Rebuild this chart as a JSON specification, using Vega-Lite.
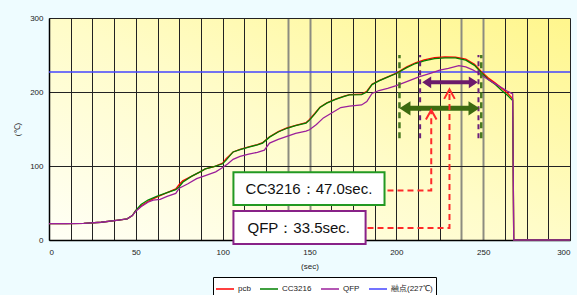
{
  "$schema": "https://vega.github.io/schema/vega-lite/v6.json",
  "width": 521,
  "height": 222,
  "autosize": {"type": "none"},
  "padding": {"left": 49, "top": 18, "right": 7, "bottom": 55},
  "background": "#eefcff",
  "config": {
    "view": {
      "fill": {"gradient": "linear", "x1": 0, "y1": 1, "x2": 1, "y2": 0,
        "stops": [{"offset": 0, "color": "#fffff6"}, {"offset": 0.5, "color": "#fffcc8"}, {"offset": 1, "color": "#fff68c"}]},
      "stroke": null
    },
    "axis": {
      "labelFont": "Liberation Sans", "labelFontSize": 8, "labelColor": "#222",
      "titleFont": "Liberation Sans", "titleFontSize": 8, "titleFontWeight": "normal", "titleColor": "#222",
      "domainColor": "#000", "domainWidth": 1.5, "ticks": false,
      "gridColor": "#222", "gridOpacity": 1, "gridWidth": 1
    },
    "legend": {
      "orient": "none", "legendX": 164, "legendY": 259, "direction": "horizontal", "symbolType": "stroke", "symbolSize": 324,
      "symbolStrokeWidth": 1.5, "labelFont": "Liberation Sans", "labelFontSize": 8, "labelColor": "#222",
      "columnPadding": 6, "padding": 2, "strokeColor": "#000", "fillColor": "#fff", "labelOffset": 3
    }
  },
  "datasets": {
    "curves": [
      {"series": "融点(227℃)", "sec": 0, "temp": 227}, {"series": "融点(227℃)", "sec": 300, "temp": 227},
      {"series": "pcb", "sec": 0, "temp": 22}, {"series": "pcb", "sec": 10, "temp": 22}, {"series": "pcb", "sec": 20, "temp": 22.5},
      {"series": "pcb", "sec": 30, "temp": 24}, {"series": "pcb", "sec": 40, "temp": 27}, {"series": "pcb", "sec": 45, "temp": 28.5},
      {"series": "pcb", "sec": 48, "temp": 33}, {"series": "pcb", "sec": 50, "temp": 40}, {"series": "pcb", "sec": 53, "temp": 46},
      {"series": "pcb", "sec": 57, "temp": 52}, {"series": "pcb", "sec": 62, "temp": 58}, {"series": "pcb", "sec": 68, "temp": 64},
      {"series": "pcb", "sec": 73, "temp": 69}, {"series": "pcb", "sec": 75, "temp": 75}, {"series": "pcb", "sec": 77, "temp": 80},
      {"series": "pcb", "sec": 82, "temp": 86}, {"series": "pcb", "sec": 87, "temp": 92}, {"series": "pcb", "sec": 90, "temp": 96},
      {"series": "pcb", "sec": 95, "temp": 99}, {"series": "pcb", "sec": 100, "temp": 104}, {"series": "pcb", "sec": 102, "temp": 110},
      {"series": "pcb", "sec": 106, "temp": 119}, {"series": "pcb", "sec": 110, "temp": 122.5}, {"series": "pcb", "sec": 115, "temp": 126},
      {"series": "pcb", "sec": 120, "temp": 129}, {"series": "pcb", "sec": 123, "temp": 131.5}, {"series": "pcb", "sec": 127, "temp": 139.5},
      {"series": "pcb", "sec": 132, "temp": 146.5}, {"series": "pcb", "sec": 137, "temp": 151.5}, {"series": "pcb", "sec": 142, "temp": 155},
      {"series": "pcb", "sec": 148, "temp": 158.5}, {"series": "pcb", "sec": 150, "temp": 163}, {"series": "pcb", "sec": 153, "temp": 171},
      {"series": "pcb", "sec": 156, "temp": 179.5}, {"series": "pcb", "sec": 160, "temp": 185.5}, {"series": "pcb", "sec": 165, "temp": 190.5},
      {"series": "pcb", "sec": 170, "temp": 194.5}, {"series": "pcb", "sec": 173, "temp": 196.5}, {"series": "pcb", "sec": 180, "temp": 197},
      {"series": "pcb", "sec": 183, "temp": 201}, {"series": "pcb", "sec": 186, "temp": 210.5}, {"series": "pcb", "sec": 190, "temp": 215.5},
      {"series": "pcb", "sec": 195, "temp": 220.5}, {"series": "pcb", "sec": 200, "temp": 225.5}, {"series": "pcb", "sec": 206, "temp": 234},
      {"series": "pcb", "sec": 211, "temp": 239.5}, {"series": "pcb", "sec": 216, "temp": 243.5}, {"series": "pcb", "sec": 222, "temp": 246.5},
      {"series": "pcb", "sec": 228, "temp": 247.5}, {"series": "pcb", "sec": 234, "temp": 247}, {"series": "pcb", "sec": 240, "temp": 244.5},
      {"series": "pcb", "sec": 245, "temp": 237.5}, {"series": "pcb", "sec": 249, "temp": 227.5}, {"series": "pcb", "sec": 253, "temp": 219},
      {"series": "pcb", "sec": 257, "temp": 212}, {"series": "pcb", "sec": 261, "temp": 204.5}, {"series": "pcb", "sec": 264, "temp": 198.5},
      {"series": "pcb", "sec": 267, "temp": 191}, {"series": "pcb", "sec": 267.6, "temp": 0}, {"series": "pcb", "sec": 300, "temp": 0},
      {"series": "CC3216", "sec": 0, "temp": 22}, {"series": "CC3216", "sec": 10, "temp": 22}, {"series": "CC3216", "sec": 20, "temp": 22.5},
      {"series": "CC3216", "sec": 30, "temp": 24}, {"series": "CC3216", "sec": 40, "temp": 27}, {"series": "CC3216", "sec": 45, "temp": 28.5},
      {"series": "CC3216", "sec": 48, "temp": 33}, {"series": "CC3216", "sec": 50, "temp": 40}, {"series": "CC3216", "sec": 53, "temp": 48},
      {"series": "CC3216", "sec": 57, "temp": 54}, {"series": "CC3216", "sec": 62, "temp": 59}, {"series": "CC3216", "sec": 68, "temp": 64},
      {"series": "CC3216", "sec": 73, "temp": 68}, {"series": "CC3216", "sec": 75, "temp": 72}, {"series": "CC3216", "sec": 77, "temp": 78},
      {"series": "CC3216", "sec": 82, "temp": 86}, {"series": "CC3216", "sec": 87, "temp": 92}, {"series": "CC3216", "sec": 90, "temp": 96},
      {"series": "CC3216", "sec": 95, "temp": 99}, {"series": "CC3216", "sec": 100, "temp": 103}, {"series": "CC3216", "sec": 102, "temp": 108},
      {"series": "CC3216", "sec": 106, "temp": 119}, {"series": "CC3216", "sec": 110, "temp": 122}, {"series": "CC3216", "sec": 115, "temp": 125.5},
      {"series": "CC3216", "sec": 120, "temp": 128.5}, {"series": "CC3216", "sec": 123, "temp": 131}, {"series": "CC3216", "sec": 127, "temp": 139},
      {"series": "CC3216", "sec": 132, "temp": 146}, {"series": "CC3216", "sec": 137, "temp": 151}, {"series": "CC3216", "sec": 142, "temp": 154.5},
      {"series": "CC3216", "sec": 148, "temp": 158}, {"series": "CC3216", "sec": 150, "temp": 162}, {"series": "CC3216", "sec": 153, "temp": 170},
      {"series": "CC3216", "sec": 156, "temp": 179}, {"series": "CC3216", "sec": 160, "temp": 185}, {"series": "CC3216", "sec": 165, "temp": 190},
      {"series": "CC3216", "sec": 170, "temp": 194}, {"series": "CC3216", "sec": 173, "temp": 196}, {"series": "CC3216", "sec": 180, "temp": 196.5},
      {"series": "CC3216", "sec": 183, "temp": 200}, {"series": "CC3216", "sec": 186, "temp": 210}, {"series": "CC3216", "sec": 190, "temp": 215},
      {"series": "CC3216", "sec": 195, "temp": 220}, {"series": "CC3216", "sec": 200, "temp": 225}, {"series": "CC3216", "sec": 206, "temp": 233},
      {"series": "CC3216", "sec": 211, "temp": 238.5}, {"series": "CC3216", "sec": 216, "temp": 242}, {"series": "CC3216", "sec": 222, "temp": 245},
      {"series": "CC3216", "sec": 228, "temp": 246}, {"series": "CC3216", "sec": 234, "temp": 246}, {"series": "CC3216", "sec": 240, "temp": 243},
      {"series": "CC3216", "sec": 245, "temp": 236}, {"series": "CC3216", "sec": 249, "temp": 226}, {"series": "CC3216", "sec": 253, "temp": 217},
      {"series": "CC3216", "sec": 257, "temp": 210}, {"series": "CC3216", "sec": 261, "temp": 201.5}, {"series": "CC3216", "sec": 264, "temp": 195.5},
      {"series": "CC3216", "sec": 267, "temp": 188.5}, {"series": "CC3216", "sec": 267.6, "temp": 0}, {"series": "CC3216", "sec": 300, "temp": 0},
      {"series": "QFP", "sec": 0, "temp": 22}, {"series": "QFP", "sec": 10, "temp": 22}, {"series": "QFP", "sec": 20, "temp": 22.5},
      {"series": "QFP", "sec": 30, "temp": 24}, {"series": "QFP", "sec": 40, "temp": 27}, {"series": "QFP", "sec": 45, "temp": 28.5},
      {"series": "QFP", "sec": 48, "temp": 33}, {"series": "QFP", "sec": 50, "temp": 39}, {"series": "QFP", "sec": 53, "temp": 45},
      {"series": "QFP", "sec": 57, "temp": 51}, {"series": "QFP", "sec": 60, "temp": 54}, {"series": "QFP", "sec": 64, "temp": 55},
      {"series": "QFP", "sec": 68, "temp": 59}, {"series": "QFP", "sec": 73, "temp": 63}, {"series": "QFP", "sec": 75, "temp": 70},
      {"series": "QFP", "sec": 80, "temp": 76}, {"series": "QFP", "sec": 85, "temp": 83}, {"series": "QFP", "sec": 90, "temp": 87},
      {"series": "QFP", "sec": 96, "temp": 92}, {"series": "QFP", "sec": 100, "temp": 98}, {"series": "QFP", "sec": 103, "temp": 103},
      {"series": "QFP", "sec": 106, "temp": 109}, {"series": "QFP", "sec": 110, "temp": 113}, {"series": "QFP", "sec": 115, "temp": 116},
      {"series": "QFP", "sec": 120, "temp": 118.5}, {"series": "QFP", "sec": 124, "temp": 121.5}, {"series": "QFP", "sec": 127, "temp": 131},
      {"series": "QFP", "sec": 132, "temp": 136}, {"series": "QFP", "sec": 137, "temp": 140}, {"series": "QFP", "sec": 142, "temp": 144},
      {"series": "QFP", "sec": 148, "temp": 147}, {"series": "QFP", "sec": 150, "temp": 149}, {"series": "QFP", "sec": 154, "temp": 156},
      {"series": "QFP", "sec": 158, "temp": 165}, {"series": "QFP", "sec": 163, "temp": 172}, {"series": "QFP", "sec": 168, "temp": 179},
      {"series": "QFP", "sec": 173, "temp": 181}, {"series": "QFP", "sec": 180, "temp": 182.5}, {"series": "QFP", "sec": 183, "temp": 187},
      {"series": "QFP", "sec": 186, "temp": 198}, {"series": "QFP", "sec": 190, "temp": 202}, {"series": "QFP", "sec": 195, "temp": 205},
      {"series": "QFP", "sec": 200, "temp": 208.5}, {"series": "QFP", "sec": 206, "temp": 214}, {"series": "QFP", "sec": 213, "temp": 220.5},
      {"series": "QFP", "sec": 220, "temp": 225.5}, {"series": "QFP", "sec": 225, "temp": 229.5}, {"series": "QFP", "sec": 230, "temp": 232},
      {"series": "QFP", "sec": 236, "temp": 235.5}, {"series": "QFP", "sec": 240, "temp": 234}, {"series": "QFP", "sec": 244, "temp": 230},
      {"series": "QFP", "sec": 249, "temp": 223}, {"series": "QFP", "sec": 253, "temp": 216.5}, {"series": "QFP", "sec": 257, "temp": 211},
      {"series": "QFP", "sec": 261, "temp": 205.5}, {"series": "QFP", "sec": 264, "temp": 201}, {"series": "QFP", "sec": 267, "temp": 197.5},
      {"series": "QFP", "sec": 267.6, "temp": 0}, {"series": "QFP", "sec": 300, "temp": 0}
    ]
  },
  "layer": [
    {
      "data": {"name": "curves"},
      "mark": {"type": "line", "strokeWidth": 1.3, "clip": false},
      "encoding": {
        "x": {"field": "sec", "type": "quantitative", "scale": {"domain": [0, 300], "nice": false},
          "axis": {"title": "(sec)", "tickCount": 40, "values": [0, 12.5, 25, 37.5, 50, 62.5, 75, 87.5, 100, 112.5, 125, 137.5, 150, 162.5, 175, 187.5, 200, 212.5, 225, 237.5, 250, 262.5, 275, 287.5, 300],
            "labelExpr": "datum.value % 50 === 0 ? datum.label : ''", "labelPadding": 8, "titlePadding": 6, "grid": true,
            "gridColor": {"condition": {"test": "datum.value === 137.5 || datum.value === 150 || datum.value === 237.5 || datum.value === 250", "value": "#8c8c80"}, "value": "#222"},
            "gridWidth": {"condition": {"test": "datum.value === 137.5 || datum.value === 150 || datum.value === 237.5 || datum.value === 250", "value": 2}, "value": 1}}},
        "y": {"field": "temp", "type": "quantitative", "scale": {"domain": [0, 300], "nice": false},
          "axis": {"title": "(℃)", "values": [0, 50, 100, 150, 200, 250, 300], "labelPadding": 6, "titlePadding": 8, "grid": true}},
        "color": {"field": "series", "type": "nominal",
          "scale": {"domain": ["pcb", "CC3216", "QFP", "融点(227℃)"], "range": ["#ff0000", "#008000", "#9b1f9b", "#4444ff"]},
          "legend": {"title": null}}
      }
    },
    {
      "data": {"values": [{"sec": 201.8}, {"sec": 248.9}]},
      "mark": {"type": "rule", "color": "#4a7a20", "strokeWidth": 2.5, "strokeDash": [6, 4]},
      "encoding": {"x": {"field": "sec", "type": "quantitative"}, "y": {"datum": 137.4}, "y2": {"datum": 250}}
    },
    {
      "data": {"values": [{"sec": 213.7}, {"sec": 247.3}]},
      "mark": {"type": "rule", "color": "#6b1f7b", "strokeWidth": 2, "strokeDash": [5, 4]},
      "encoding": {"x": {"field": "sec", "type": "quantitative"}, "y": {"datum": 137.4}, "y2": {"datum": 250}}
    },
    {
      "data": {"values": [{"sec": 205, "sec2": 245, "temp": 178}]},
      "mark": {"type": "rule", "color": "#3d6b10", "strokeWidth": 5},
      "encoding": {"x": {"field": "sec", "type": "quantitative"}, "x2": {"field": "sec2"}, "y": {"field": "temp", "type": "quantitative"}}
    },
    {
      "data": {"values": [{"sec": 201.8, "temp": 178, "dir": "left"}, {"sec": 247.9, "temp": 178, "dir": "right"}]},
      "mark": {"type": "point", "filled": true, "color": "#3d6b10", "opacity": 1, "size": 484},
      "encoding": {"x": {"field": "sec", "type": "quantitative"}, "y": {"field": "temp", "type": "quantitative"},
        "shape": {"field": "dir", "type": "nominal", "scale": {"domain": ["left", "right"], "range": ["M0,0L1,-0.65L1,0.65Z", "M0,0L-1,-0.65L-1,0.65Z"]}, "legend": null}}
    },
    {
      "data": {"values": [{"sec": 217, "sec2": 245, "temp": 213.1}]},
      "mark": {"type": "rule", "color": "#6b1a6b", "strokeWidth": 4},
      "encoding": {"x": {"field": "sec", "type": "quantitative"}, "x2": {"field": "sec2"}, "y": {"field": "temp", "type": "quantitative"}}
    },
    {
      "data": {"values": [{"sec": 214.9, "temp": 213.1, "dir": "left"}, {"sec": 246.9, "temp": 213.1, "dir": "right"}]},
      "mark": {"type": "point", "filled": true, "color": "#6b1a6b", "opacity": 1, "size": 324},
      "encoding": {"x": {"field": "sec", "type": "quantitative"}, "y": {"field": "temp", "type": "quantitative"},
        "shape": {"field": "dir", "type": "nominal", "scale": {"domain": ["left", "right"], "range": ["M0,0L1,-0.6L1,0.6Z", "M0,0L-1,-0.6L-1,0.6Z"]}, "legend": null}}
    },
    {
      "data": {"values": [
        {"arrow": "a", "step": 1, "sec": 194.9, "temp": 66.9}, {"arrow": "a", "step": 2, "sec": 220.1, "temp": 66.9}, {"arrow": "a", "step": 3, "sec": 220.1, "temp": 175.2},
        {"arrow": "b", "step": 1, "sec": 183.4, "temp": 16.2}, {"arrow": "b", "step": 2, "sec": 230.6, "temp": 16.2}, {"arrow": "b", "step": 3, "sec": 230.6, "temp": 203.1}
      ]},
      "mark": {"type": "line", "color": "#ff2a2a", "strokeWidth": 2, "strokeDash": [6, 4], "clip": false},
      "encoding": {"x": {"field": "sec", "type": "quantitative"}, "y": {"field": "temp", "type": "quantitative"},
        "detail": {"field": "arrow"}, "order": {"field": "step", "type": "ordinal"}}
    },
    {
      "data": {"values": [{"sec": 220.1, "temp": 175.7}, {"sec": 230.6, "temp": 203.6}]},
      "mark": {"type": "point", "filled": false, "color": "#ff2a2a", "strokeWidth": 2, "opacity": 1, "size": 450, "shape": "M-0.5,0.9L0,0L0.5,0.9"},
      "encoding": {"x": {"field": "sec", "type": "quantitative"}, "y": {"field": "temp", "type": "quantitative"}}
    },
    {
      "data": {"values": [
        {"box": "cc", "sec": 106.2, "sec2": 193.2, "temp": 91.5, "temp2": 47.3},
        {"box": "qfp", "sec": 106.2, "sec2": 182.3, "temp": 39.2, "temp2": -5.4}
      ]},
      "mark": {"type": "rect", "fill": "#ffffff", "strokeWidth": 2, "clip": false},
      "encoding": {"x": {"field": "sec", "type": "quantitative"}, "x2": {"field": "sec2"},
        "y": {"field": "temp", "type": "quantitative"}, "y2": {"field": "temp2"},
        "stroke": {"field": "box", "type": "nominal", "scale": {"domain": ["cc", "qfp"], "range": ["#229922", "#882288"]}, "legend": null}}
    },
    {
      "data": {"values": [
        {"label": "CC3216：47.0sec.", "sec": 149.7, "temp": 69.4},
        {"label": "QFP：33.5sec.", "sec": 143.8, "temp": 16.2}
      ]},
      "mark": {"type": "text", "font": "Liberation Sans", "fontSize": 15, "color": "#111", "align": "center", "baseline": "middle"},
      "encoding": {"x": {"field": "sec", "type": "quantitative"}, "y": {"field": "temp", "type": "quantitative"}, "text": {"field": "label"}}
    }
  ]
}
